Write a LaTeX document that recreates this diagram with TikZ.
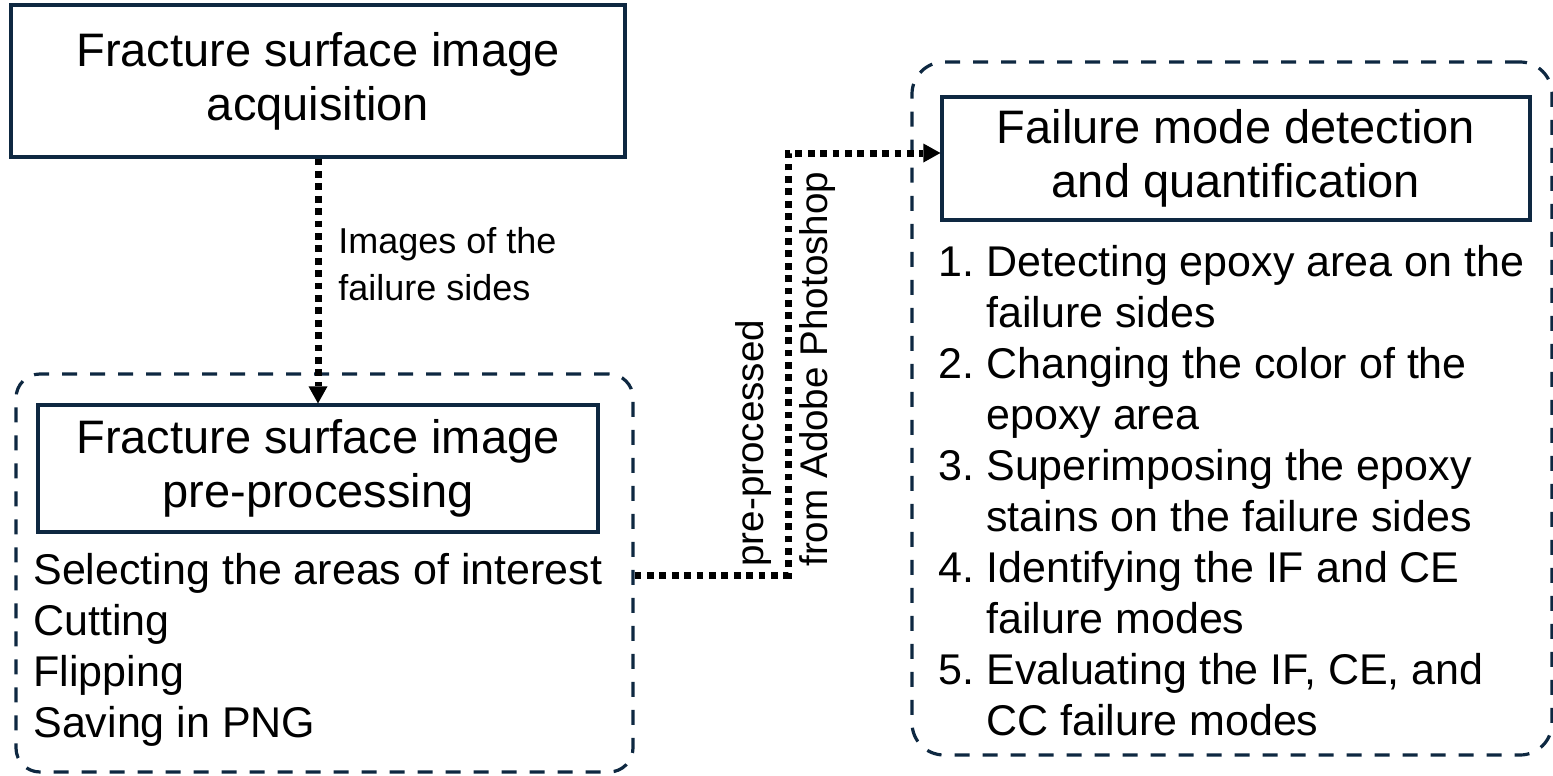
\documentclass[tikz,border=0pt]{standalone}
\usepackage{fontspec}
\setmainfont{Liberation Sans}
\usepackage{xcolor}
\usepackage{tikz}
\usetikzlibrary{arrows.meta,positioning,calc}
\definecolor{navy}{RGB}{14,40,65}
\newcommand{\headfont}{\fontsize{23.5}{27}\selectfont}
\newcommand{\listfont}{\fontsize{21.5}{25.5}\selectfont}
\newcommand{\notefont}{\fontsize{18}{23.5}\selectfont}
\newcommand{\sidefont}{\fontsize{19.3}{32}\selectfont}
\newcommand{\itemno}[1]{\makebox[24pt][l]{#1}}
\newcommand{\indentno}{\hspace*{24pt}}
\tikzset{% 
  stage box/.style={%
    draw=navy,
    line width=1.6pt,
    align=center,
    font=\headfont,
    inner sep=0pt
  }
}
\tikzset{% 
  group box/.style={%
    draw=navy,
    line width=1.6pt,
    dash pattern=on 7.5pt off 6.5pt,
    rounded corners=12pt,
    inner sep=0pt
  }
}
\tikzset{% 
  flow dotted/.style={%
    line width=3.5pt,
    dash pattern=on 3.4pt off 2.8pt,
    -{Triangle[width=9.5pt,length=8.5pt,line width=0pt]}
  }
}
\tikzset{% 
  free text/.style={%
    anchor=north west,
    align=left,
    inner sep=0pt
  }
}
\begin{document}
\begin{tikzpicture}[x=0.5pt,y=-0.5pt]
  \useasboundingbox (0,0) rectangle (1553,776);
  % groups
  \node [group box, minimum width=308.5pt, minimum height=199pt] (prepgroup) at (324.5,573) {};
  \node [group box, rounded corners=16pt, minimum width=320pt, minimum height=346.5pt] (detectgroup) at (1232,408.5) {};
  % stages
  \node [stage box, minimum width=307pt, minimum height=76pt] (acq) at (318,81) {Fracture surface image\\acquisition};
  \node [stage box, minimum width=280pt, minimum height=63.5pt] (prep) at (318,468.5) {Fracture surface image\\pre-processing};
  \node [stage box, minimum width=294pt, minimum height=61.5pt] (detect) at (1236,158.5) {Failure mode detection\\and quantification};
  % steps
  \node [free text, font=\listfont] (prepsteps) at (33,553) {Selecting the areas of interest\\Cutting\\Flipping\\Saving in PNG};
  \node [free text, font=\listfont] (detectsteps) at (938,245) {\itemno{1.}Detecting epoxy area on the\\
    \indentno failure sides\\
    \itemno{2.}Changing the color of the\\
    \indentno epoxy area\\
    \itemno{3.}Superimposing the epoxy\\
    \indentno stains on the failure sides\\
    \itemno{4.}Identifying the IF and CE\\
    \indentno failure modes\\
    \itemno{5.}Evaluating the IF, CE, and\\
    \indentno CC failure modes};
  % links
  \draw [flow dotted] (acq.south) -- (prep.north);
  \node [free text, font=\notefont] (imglabel) at (338,227) {Images of the\\failure sides};
  \coordinate (low bend) at (788,575);
  \coordinate (high bend) at (788,153);
  \draw [flow dotted] (prepgroup.east |- low bend) -- (low bend) -- (high bend) -- (detect.west |- high bend);
  \node [free text, rotate=90, font=\sidefont] (pslabel) at (735,567) {pre-processed\\from Adobe Photoshop};
\end{tikzpicture}
\end{document}
